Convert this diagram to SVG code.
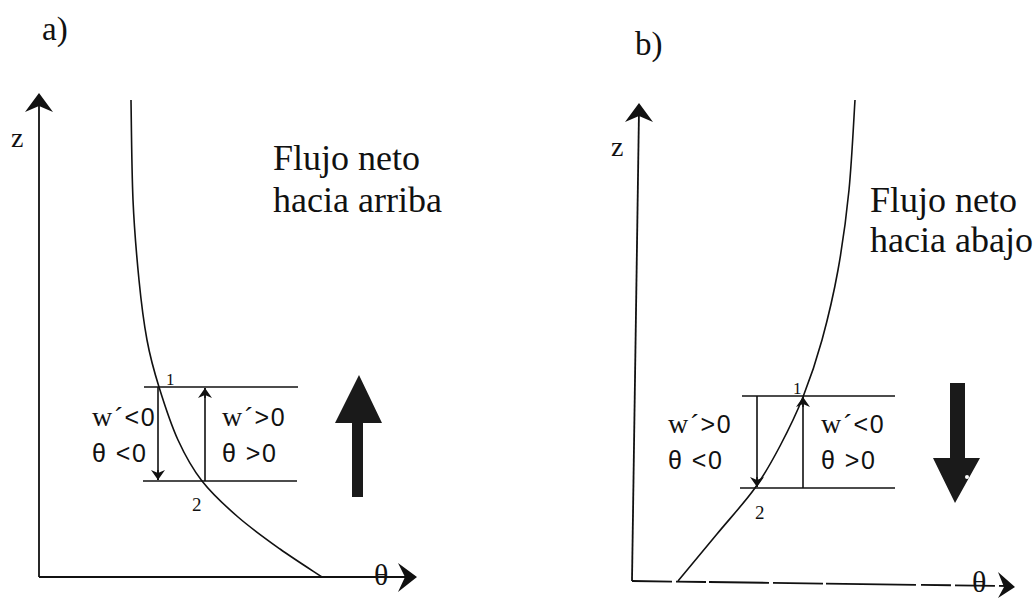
<svg xmlns="http://www.w3.org/2000/svg" width="1036" height="598" viewBox="0 0 1036 598">
<style>
.ln{stroke:#111;stroke-width:1.6;fill:none}
.ax{stroke:#111;stroke-width:1.8;fill:none}
.sf{font-family:"Liberation Serif","Times New Roman",serif;fill:#111}
.ss{font-family:"Liberation Sans",Arial,sans-serif;fill:#111}
.lab{font-family:"Liberation Sans",Arial,sans-serif;fill:#111;font-size:25px;letter-spacing:1.5px}
.w{font-family:"Liberation Serif","Times New Roman",serif;font-size:28px}
.big{fill:#1a1a1a}
</style>
<defs>
<marker id="ah" viewBox="0 0 10 14" refX="10" refY="7" markerWidth="10" markerHeight="14" markerUnits="userSpaceOnUse" orient="auto"><path d="M0,0 L10,7 L0,14 L3,7 Z" fill="#111"/></marker>
</defs>
<rect width="1036" height="598" fill="#fff"/>
<!-- Panel a -->
<g id="panel-a-label"><text class="sf" x="42" y="40" font-size="33">a)</text></g>
<g id="axis-a">
<line class="ax" x1="39" y1="100" x2="39" y2="577"/>
<line class="ax" x1="39" y1="577" x2="410" y2="577"/>
<path d="M39,93 L53,112 L39,106 L25,112 Z" fill="#111"/>
<path d="M417,577 L398,563 L405,577 L398,592 Z" fill="#111"/>
<text class="sf" x="11" y="147" font-size="28">z</text>
<text class="sf" x="374" y="585" font-size="30">θ</text>
</g>
<g id="curve-a"><path class="ln" d="M131,100 C131.3,116.7 131.7,170 133,200 C134.3,230 136.7,256.7 139,280 C141.3,303.3 143.7,322.2 147,340 C150.3,357.8 153.8,370.3 159,387 C164.2,403.7 170.8,424.3 178,440 C185.2,455.7 192,468.2 202,481 C212,493.8 225,505.7 238,517 C251,528.3 266,539 280,549 C294,559 315,572.3 322,577"/></g>
<g id="levels-a">
<line class="ln" x1="144" y1="387" x2="298" y2="387"/>
<line class="ln" x1="143" y1="481" x2="297" y2="481"/>
<text class="sf" x="166" y="385" font-size="17">1</text>
<text class="sf" x="192" y="511" font-size="19">2</text>
</g>
<g id="connectors">
<line class="ln" x1="158" y1="387" x2="158" y2="480"/>
<line class="ln" x1="158" y1="470" x2="158" y2="480" marker-end="url(#ah)"/>
<line class="ln" x1="205" y1="481" x2="205" y2="388"/>
<line class="ln" x1="205" y1="398" x2="205" y2="388" marker-end="url(#ah)"/>
<line class="ln" x1="757" y1="396" x2="757" y2="487"/>
<line class="ln" x1="757" y1="477" x2="757" y2="487" marker-end="url(#ah)"/>
<line class="ln" x1="803" y1="488" x2="803" y2="397"/>
<line class="ln" x1="803" y1="407" x2="803" y2="397" marker-end="url(#ah)"/>
</g>
<g id="labels-a">
<text class="lab" x="92" y="426"><tspan class="w">w´</tspan>&lt;0</text>
<text class="lab" x="92" y="462">θ &lt;0</text>
<text class="lab" x="222" y="426"><tspan class="w">w´</tspan>&gt;0</text>
<text class="lab" x="222" y="462">θ &gt;0</text>
</g>
<g id="arrow-up-a"><path class="big" d="M359,375 L382,423 L363,423 L363,497 L352,497 L352,423 L335,423 Z"/></g>
<g id="text-a">
<text class="sf" x="273" y="170" font-size="36">Flujo neto</text>
<text class="sf" x="273" y="212" font-size="36">hacia arriba</text>
</g>
<!-- Panel b -->
<g id="panel-b-label"><text class="sf" x="635" y="55" font-size="33">b)</text></g>
<g id="axis-b">
<line class="ax" x1="639" y1="110" x2="632" y2="581"/>
<line class="ax" x1="632" y1="581" x2="1008" y2="586" stroke-dasharray="40 4 30 3 60 4 50 3 90 5 30 4"/>
<path d="M639,103 L653,122 L639,116 L625,122 Z" fill="#111"/>
<path d="M1015,587 L998,572 L1004,587 L998,598 Z" fill="#111"/>
<text class="sf" x="611" y="156" font-size="28">z</text>
<text class="sf" x="972" y="592" font-size="30">θ</text>
</g>
<g id="curve-b"><path class="ln" d="M678,581 C684.5,573.2 704.2,549.5 717,534 C729.8,518.5 744.5,502.7 755,488 C765.5,473.3 772,461.2 780,446 C788,430.8 796,414.7 803,397 C810,379.3 816.2,361.2 822,340 C827.8,318.8 833.5,295 838,270 C842.5,245 846.2,218.3 849,190 C851.8,161.7 854,115 855,100"/></g>
<g id="levels-b">
<line class="ln" x1="742" y1="396" x2="895" y2="396"/>
<line class="ln" x1="740" y1="488" x2="895" y2="488"/>
<text class="sf" x="793" y="394" font-size="17">1</text>
<text class="sf" x="755" y="519" font-size="19">2</text>
</g>
<g id="labels-b">
<text class="lab" x="668" y="433"><tspan class="w">w´</tspan>&gt;0</text>
<text class="lab" x="668" y="469">θ &lt;0</text>
<text class="lab" x="821" y="433"><tspan class="w">w´</tspan>&lt;0</text>
<text class="lab" x="821" y="469">θ &gt;0</text>
</g>
<g id="arrow-down-b"><path class="big" d="M950,383 L965,383 L965,458 L980,458 L955,503 L933,458 L950,458 Z"/><circle cx="967" cy="477" r="2" fill="#fff"/></g>
<g id="text-b">
<text class="sf" x="870" y="212" font-size="36">Flujo neto</text>
<text class="sf" x="870" y="252" font-size="36">hacia abajo</text>
</g>
</svg>
